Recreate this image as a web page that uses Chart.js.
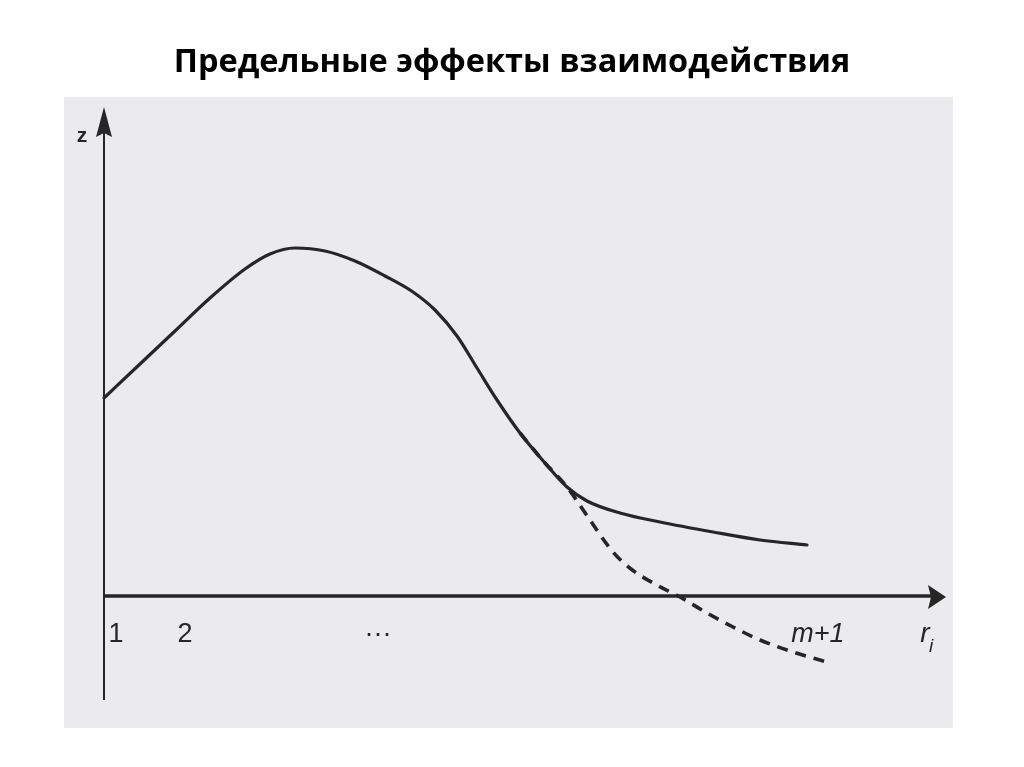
<!DOCTYPE html>
<html><head><meta charset="utf-8">
<script src="https://cdn.jsdelivr.net/npm/chart.js@4.4.1/dist/chart.umd.min.js"></script>
<style>html,body{margin:0;padding:0;background:#fff;overflow:hidden;} canvas{display:block;}</style>
</head><body>
<canvas id="c" width="1024" height="767" style="width:1024px;height:767px"></canvas>
<script>
const titleText = 'Предельные эффекты взаимодействия';
// main curve (solid)
const solidR = [0.00, 0.36, 0.71, 1.06, 1.41, 1.66, 1.91, 2.21, 2.51, 2.81, 3.09, 3.31, 3.53, 3.73, 3.93, 4.16, 4.41, 4.63, 4.83, 5.16, 5.56, 6.09, 6.56, 7.03];
const solidZ = [1.98, 2.32, 2.65, 2.98, 3.27, 3.42, 3.48, 3.45, 3.35, 3.20, 3.04, 2.86, 2.60, 2.28, 1.96, 1.63, 1.33, 1.09, 0.95, 0.83, 0.74, 0.64, 0.56, 0.51];
// alternative branch (dashed)
const dashedR = [4.16, 4.41, 4.63, 4.86, 5.09, 5.27, 5.49, 5.76, 6.03, 6.29, 6.56, 6.89, 7.23];
const dashedZ = [1.63, 1.33, 1.09, 0.76, 0.44, 0.27, 0.13, -0.01, -0.17, -0.31, -0.44, -0.56, -0.66];
// x-axis tick labels
const tickValues = [0.12, 0.81, 2.74, 7.14];
const tickLabels = ['1', '2', '···', 'm+1'];
const axisLabelY = 'z';
const axisLabelX = 'r';
const axisLabelXSub = 'i';

const INK = '#262626';
const SANS = '"Liberation Sans", Arial, sans-serif';

const scanBg = {
  id: 'scanBg',
  beforeDraw(chart) {
    const {ctx, chartArea: a, scales: {x}} = chart;
    const x0 = x.getPixelForValue(0);
    ctx.save();
    ctx.fillStyle = '#ebebed';
    ctx.fillRect(x0 - 40, a.top - 3, (a.right - x0) + 47, (a.bottom - a.top) + 31);
    ctx.restore();
  }
};

const arrowAxes = {
  id: 'arrowAxes',
  beforeDatasetsDraw(chart) {
    const {ctx, scales: {x, y}} = chart;
    const x0 = x.getPixelForValue(0), y0 = y.getPixelForValue(0);
    const top = y.getPixelForValue(y.max), bottom = y.getPixelForValue(y.min);
    const right = x.getPixelForValue(x.max);
    ctx.save();
    ctx.strokeStyle = INK; ctx.fillStyle = INK;
    // vertical axis
    ctx.lineWidth = 2;
    ctx.beginPath(); ctx.moveTo(x0, bottom); ctx.lineTo(x0, top + 25); ctx.stroke();
    ctx.beginPath();
    ctx.moveTo(x0, top + 7); ctx.lineTo(x0 - 8, top + 37); ctx.lineTo(x0, top + 33); ctx.lineTo(x0 + 8, top + 37);
    ctx.closePath(); ctx.fill();
    // horizontal axis
    ctx.lineWidth = 3.5;
    ctx.beginPath(); ctx.moveTo(x0 - 1, y0); ctx.lineTo(right - 12, y0); ctx.stroke();
    ctx.beginPath();
    ctx.moveTo(right, y0 + 1); ctx.lineTo(right - 18, y0 - 11); ctx.lineTo(right - 15, y0 + 1); ctx.lineTo(right - 18, y0 + 13);
    ctx.closePath(); ctx.fill();
    ctx.restore();
  },
  afterDraw(chart) {
    const {ctx, scales: {x, y}} = chart;
    const x0 = x.getPixelForValue(0), y0 = y.getPixelForValue(0);
    const top = y.getPixelForValue(y.max);
    const right = x.getPixelForValue(x.max);
    ctx.save();
    ctx.fillStyle = INK;
    ctx.textAlign = 'center'; ctx.textBaseline = 'alphabetic';
    ctx.font = 'bold 21px ' + SANS;
    ctx.fillText(axisLabelY, x0 - 22, top + 42);
    ctx.font = 'italic 28px ' + SANS;
    ctx.fillText(axisLabelX, right - 21, y0 + 46);
    ctx.font = 'italic 19px ' + SANS;
    ctx.fillText(axisLabelXSub, right - 15, y0 + 56);
    ctx.restore();
  }
};

new Chart(document.getElementById('c'), {
  type: 'line',
  data: {
    datasets: [
      {
        data: solidR.map((r, i) => ({x: r, y: solidZ[i]})),
        borderColor: INK, borderWidth: 3.2, pointRadius: 0, cubicInterpolationMode: 'monotone', fill: false,
        borderCapStyle: 'round'
      },
      {
        data: dashedR.map((r, i) => ({x: r, y: dashedZ[i]})),
        borderColor: INK, borderWidth: 3.6, borderDash: [11, 8], pointRadius: 0, cubicInterpolationMode: 'monotone', fill: false
      }
    ]
  },
  options: {
    responsive: false, devicePixelRatio: 1, animation: false,
    layout: {padding: {left: 78, right: 78, top: 0, bottom: 67}},
    plugins: {
      legend: {display: false}, tooltip: {enabled: false},
      title: {
        display: true, text: titleText, color: '#000',
        font: {family: '"Open Sans", sans-serif', size: 32.5, weight: 'bold', lineHeight: 1.2},
        padding: {top: 43, bottom: 18}
      }
    },
    scales: {
      x: {
        type: 'linear', min: -0.26, max: 8.42, position: {y: 0},
        grid: {display: false, drawTicks: false}, border: {display: false},
        afterBuildTicks: s => { s.ticks = tickValues.map(v => ({value: v})); },
        ticks: {
          autoSkip: false, maxRotation: 0, padding: 22, color: INK,
          callback: (v, i) => tickLabels[i],
          font: c => ({family: SANS, size: 27, style: c.index === 3 ? 'italic' : 'normal'})
        }
      },
      y: {
        type: 'linear', min: -1.04, max: 4.96, display: false
      }
    }
  },
  plugins: [scanBg, arrowAxes]
});
</script>
</body></html>
